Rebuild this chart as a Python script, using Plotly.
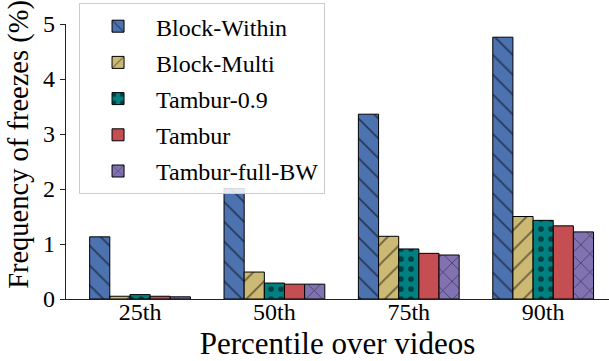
import plotly.graph_objects as go

# Freeze frequency per percentile over videos, one series per scheme
percentiles = ["25th", "50th", "75th", "90th"]
block_within = [1.13, 2.01, 3.36, 4.76]
block_multi = [0.05, 0.49, 1.14, 1.50]
tambur_09 = [0.08, 0.29, 0.91, 1.43]
tambur = [0.05, 0.27, 0.83, 1.33]
tambur_full_bw = [0.04, 0.27, 0.80, 1.22]

series = [
    ("Block-Within", block_within, "#4c72b0", "\\", 14),
    ("Block-Multi", block_multi, "#ccb974", "/", 14),
    ("Tambur-0.9", tambur_09, "#008080", ".", 10),
    ("Tambur", tambur, "#c44e52", "", 10),
    ("Tambur-full-BW", tambur_full_bw, "#8172b2", "x", 13),
]

FONT = "Liberation Serif"

fig = go.Figure()
for i, (name, vals, color, shape, size) in enumerate(series):
    fig.add_trace(go.Bar(
        x=percentiles,
        y=vals,
        name=name,
        legendgroup=f"g{i}",
        marker=dict(
            color=color,
            line=dict(color="black", width=1),
            pattern=dict(shape=shape, size=size, solidity=0.25 if shape == "." else 0.12,
                         fgcolor="black", bgcolor=color, fillmode="overlay"),
        ),
    ))

# y-axis label drawn as a rotated annotation so it can sit slightly above centre
fig.add_annotation(
    text="Frequency of freezes (%)",
    xref="paper", yref="paper",
    x=-66 / 543 + 19 / 543, y=(299.3 - 145) / 275.3,
    xanchor="center", yanchor="middle",
    textangle=-90, showarrow=False,
    font=dict(family=FONT, size=28.5, color="black"),
)

fig.update_layout(
    width=609,
    height=361,
    margin=dict(l=66, r=0, t=24, b=62),
    paper_bgcolor="white",
    plot_bgcolor="white",
    barmode="group",
    bargap=0.25,
    bargroupgap=0,
    font=dict(family=FONT, size=24, color="black"),
    legend=dict(
        x=0.024, y=1.076, xanchor="left", yanchor="top",
        bgcolor="rgba(255,255,255,0.85)",
        bordercolor="#cccccc", borderwidth=1,
        font=dict(family=FONT, size=24, color="black"),
        itemwidth=66,
        tracegroupgap=2,
        maxheight=400,
    ),
    xaxis=dict(
        range=[-0.551, 3.49],
        showline=True, linecolor="#222222", linewidth=1.3,
        ticks="", ticklen=0, ticklabelstandoff=-9,
        showgrid=False, zeroline=False,
        tickfont=dict(family=FONT, size=24, color="black"),
        title=dict(text="Percentile over videos", font=dict(family=FONT, size=31, color="black"), standoff=9),
    ),
    yaxis=dict(
        range=[0, 5],
        tickvals=[0, 1, 2, 3, 4, 5],
        showline=True, linecolor="#222222", linewidth=1.3,
        ticks="outside", ticklen=5, tickcolor="#222222",
        showgrid=False, zeroline=False,
        tickfont=dict(family=FONT, size=24, color="black"),
    ),
)

fig.write_html("out.html")
